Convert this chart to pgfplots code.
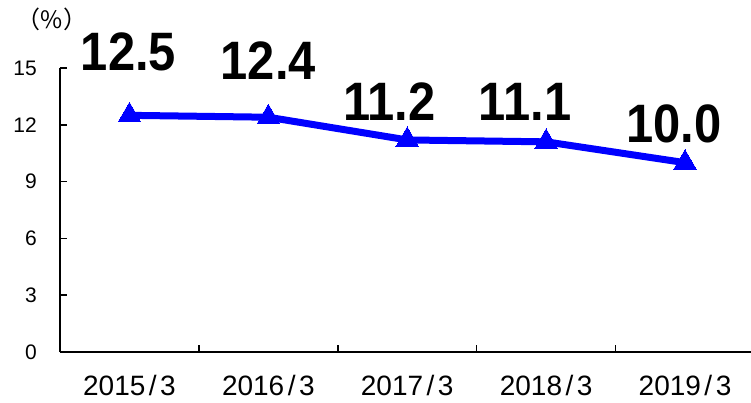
\documentclass[border=0pt]{standalone}
\usepackage{pgfplots}
\pgfplotsset{compat=1.18}
\usepackage{fontspec}
\setmainfont{Liberation Sans}
\newfontfamily\cjk{Noto Sans CJK JP}
\pgfplotstableread{
x y
0 12.5
1 12.4
2 11.2
3 11.1
4 10.0
}\ratio
\begin{document}
\begin{tikzpicture}[x=1pt,y=1pt]
\useasboundingbox (-60pt,-50pt) rectangle (691pt,352pt);
\begin{axis}[
  scale only axis,
  width=691pt, height=284pt,
  xmin=-0.5, xmax=4.475,
  ymin=0, ymax=15,
  axis x line*=bottom,
  axis y line*=left,
  axis line style={line width=2pt, -},
  ytick={0,3,6,9,12,15},
  yticklabel style={font=\fontsize{21}{21}\selectfont, anchor=east, inner sep=0pt, xshift=-23pt},
  /pgf/number format/assume math mode=true,
  xtick={0,1,2,3,4},
  xticklabels={2015\kern3.5pt/\kern3.5pt3,2016\kern3.5pt/\kern3.5pt3,2017\kern3.5pt/\kern3.5pt3,2018\kern3.5pt/\kern3.5pt3,2019\kern3.5pt/\kern3.5pt3},
  xticklabel style={font=\fontsize{28}{28}\selectfont, anchor=north, inner sep=0pt, yshift=-23pt},
  x tick style={draw=none},
  y tick style={line width=1.5pt, black},
  major tick length=7pt,
  tick align=inside,
  extra x ticks={0.5,1.5,2.5,3.5},
  extra x tick labels={},
  extra x tick style={x tick style={draw=black, line width=1.5pt}, major tick length=7pt},
  clip=false,
]
\addplot[color=blue, line width=7pt, mark=triangle*, mark size=13pt,
  mark options={fill=blue, draw=blue, line width=0pt}] table[x=x,y=y] {\ratio};
\def\lbl#1{\scalebox{0.94}[1.04]{\fontsize{52}{52}\selectfont\bfseries #1}}
\node[inner sep=0pt] at ([xshift=-1pt,yshift=63pt]axis cs:0,12.5) {\lbl{12.5}};
\node[inner sep=0pt] at ([xshift=0pt,yshift=57pt]axis cs:1,12.4) {\lbl{12.4}};
\node[inner sep=0pt] at ([xshift=-18pt,yshift=38pt]axis cs:2,11.2) {\lbl{11.2}};
\node[inner sep=0pt] at ([xshift=-21pt,yshift=40pt]axis cs:3,11.1) {\lbl{11.1}};
\node[inner sep=0pt] at ([xshift=-11pt,yshift=39pt]axis cs:4,10.0) {\lbl{10.0}};
\end{axis}
\node[inner sep=0pt, font=\cjk\fontsize{24}{24}\selectfont] at (-8pt,333pt) {（\%）};
\end{tikzpicture}
\end{document}
